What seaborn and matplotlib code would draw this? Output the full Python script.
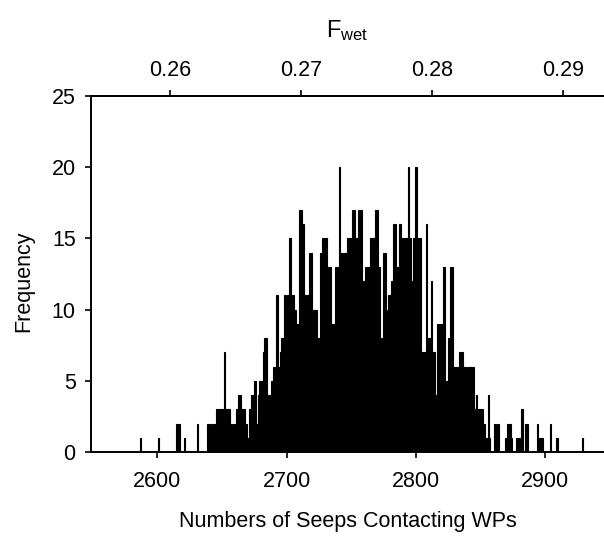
import matplotlib
matplotlib.use("Agg")
import matplotlib.pyplot as plt
import seaborn as sns
import numpy as np

# Number of seeps contacting WPs (bin centres, width 1) and their frequencies
seeps = [2587, 2601, 2615, 2616, 2617, 2621, 2631, 2639, 2640, 2641, 2642, 2643,
         2644, 2645, 2646, 2647, 2648, 2649, 2650, 2651, 2652, 2653, 2654, 2655,
         2656, 2657, 2659, 2660, 2661, 2662, 2663, 2664, 2665, 2666, 2667, 2668,
         2669, 2670, 2671, 2672, 2673, 2674, 2675, 2676, 2677, 2678, 2679, 2680,
         2681, 2682, 2683, 2684, 2685, 2686, 2687, 2688, 2689, 2690, 2691, 2692,
         2693, 2694, 2695, 2696, 2697, 2698, 2699, 2700, 2701, 2702, 2703, 2704,
         2705, 2706, 2707, 2708, 2709, 2710, 2711, 2712, 2713, 2714, 2715, 2716,
         2717, 2718, 2719, 2720, 2721, 2722, 2723, 2724, 2725, 2726, 2727, 2728,
         2729, 2730, 2731, 2732, 2733, 2734, 2735, 2736, 2737, 2738, 2739, 2740,
         2741, 2742, 2743, 2744, 2745, 2746, 2747, 2748, 2749, 2750, 2751, 2752,
         2753, 2754, 2755, 2756, 2757, 2758, 2759, 2760, 2761, 2762, 2763, 2764,
         2765, 2766, 2767, 2768, 2769, 2770, 2771, 2772, 2773, 2774, 2775, 2776,
         2777, 2778, 2779, 2780, 2781, 2782, 2783, 2784, 2785, 2786, 2787, 2788,
         2789, 2790, 2791, 2792, 2793, 2794, 2795, 2796, 2797, 2798, 2799, 2800,
         2801, 2802, 2803, 2804, 2805, 2806, 2807, 2808, 2809, 2810, 2811, 2812,
         2813, 2814, 2815, 2816, 2817, 2818, 2819, 2820, 2821, 2822, 2823, 2824,
         2825, 2826, 2827, 2828, 2829, 2830, 2831, 2832, 2833, 2834, 2835, 2836,
         2837, 2838, 2839, 2840, 2841, 2842, 2843, 2844, 2845, 2846, 2847, 2848,
         2849, 2850, 2851, 2852, 2853, 2854, 2855, 2856, 2857, 2861, 2862, 2863,
         2864, 2869, 2871, 2872, 2873, 2874, 2878, 2879, 2880, 2882, 2885, 2886,
         2894, 2895, 2896, 2897, 2898, 2904, 2909, 2929]

freq = [1, 1, 2, 2, 2, 1, 2, 2, 2, 2, 1, 2,
        2, 2, 3, 3, 3, 3, 3, 3, 7, 3, 3, 3,
        3, 2, 2, 2, 3, 3, 4, 4, 3, 3, 3, 2,
        2, 1, 3, 3, 4, 4, 5, 5, 2, 4, 5, 5,
        5, 7, 8, 8, 3, 4, 4, 5, 5, 6, 6, 11,
        11, 6, 7, 8, 8, 11, 11, 5, 11, 15, 15, 11,
        11, 10, 10, 9, 9, 17, 17, 16, 16, 10, 11, 11,
        11, 14, 14, 7, 10, 10, 10, 8, 8, 14, 14, 15,
        15, 15, 15, 13, 13, 13, 9, 9, 9, 13, 13, 13,
        20, 14, 11, 14, 14, 14, 15, 15, 15, 15, 17, 17,
        15, 15, 11, 17, 17, 17, 12, 12, 13, 13, 13, 13,
        15, 15, 15, 15, 17, 17, 13, 13, 8, 8, 14, 14,
        9, 10, 11, 11, 12, 12, 16, 16, 13, 13, 16, 16,
        9, 15, 15, 15, 15, 20, 15, 15, 12, 15, 15, 20,
        15, 15, 15, 6, 7, 7, 7, 16, 8, 8, 8, 12,
        7, 7, 4, 4, 9, 9, 9, 9, 13, 13, 5, 5,
        8, 8, 13, 13, 6, 6, 6, 6, 1, 7, 7, 7,
        6, 6, 6, 2, 6, 6, 6, 6, 3, 3, 4, 3,
        3, 3, 3, 2, 2, 1, 1, 4, 1, 2, 1, 2,
        2, 1, 2, 2, 2, 1, 1, 1, 1, 3, 2, 2,
        2, 1, 1, 1, 1, 2, 1, 1]

x_ticks = [2600, 2700, 2800, 2900]
y_ticks = [0, 5, 10, 15, 20, 25]
fwet_ticks = [0.26, 0.27, 0.28, 0.29]

sns.set_style("ticks")
plt.rcParams["font.family"] = ["Liberation Sans", "DejaVu Sans"]
plt.rcParams["mathtext.fontset"] = "custom"
plt.rcParams["mathtext.rm"] = "Liberation Sans"
plt.rcParams["text.color"] = "black"
plt.rcParams["axes.labelcolor"] = "black"
plt.rcParams["xtick.color"] = "black"
plt.rcParams["ytick.color"] = "black"

fig = plt.figure(figsize=(6.04, 5.37), dpi=100)
ax = fig.add_axes([91 / 604, 1 - 452 / 537, 513 / 604, 356 / 537])

sns.histplot(x=seeps, weights=freq, discrete=True, color="black", alpha=1,
             edgecolor="black", linewidth=0.8, ax=ax)

ax.set_xlim(2548.6, 2945.4)
ax.set_ylim(0, 25)
ax.set_xticks(x_ticks)
ax.set_xticklabels([str(t) for t in x_ticks])
ax.set_yticks(y_ticks)
ax.set_yticklabels([str(t) for t in y_ticks])

for s in ["left", "bottom", "top"]:
    ax.spines[s].set_linewidth(1.4)
    ax.spines[s].set_color("black")
ax.spines["right"].set_visible(False)

ax.tick_params(axis="both", direction="out", length=4, width=1.2,
               colors="black", labelsize=15.5)
ax.tick_params(axis="x", pad=10)
ax.tick_params(axis="y", pad=7)

ax.set_xlabel("Numbers of Seeps Contacting WPs", fontsize=15.5, color="black")
ax.set_ylabel("Frequency", fontsize=15.5, color="black")
ax.xaxis.set_label_coords(0.5, -0.165)
ax.yaxis.set_label_coords(-0.11, 0.48)

secax = ax.secondary_xaxis("top", functions=(lambda n: (n + 24) / 10130.0,
                                              lambda f: f * 10130.0 - 24))
secax.set_xticks(fwet_ticks)
secax.set_xticklabels([f"{t:.2f}" for t in fwet_ticks])
secax.tick_params(direction="out", length=4, width=1.2, labelsize=15.5, pad=7,
                  colors="black")
secax.spines["top"].set_linewidth(1.4)
secax.set_xlabel(r"$\mathregular{F_{wet}}$", fontsize=17, labelpad=16,
                 color="black")

fig.savefig("out.png", dpi=100)
